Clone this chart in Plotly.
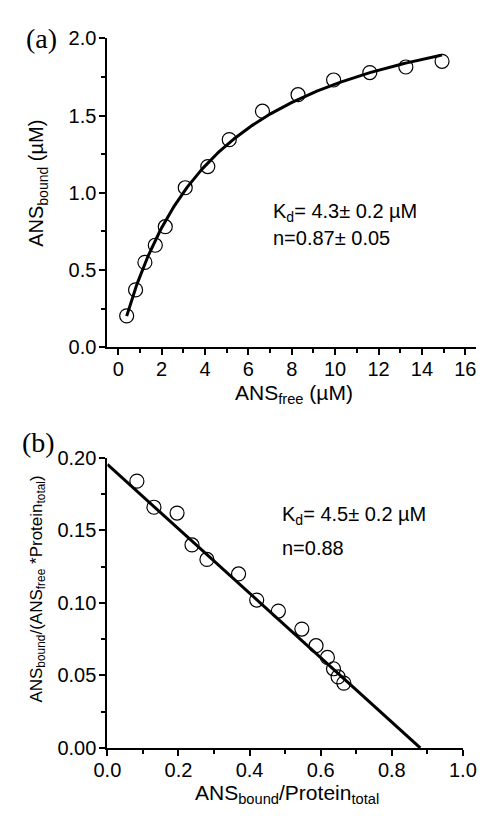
import numpy as np
import plotly.graph_objects as go

# Panel (a): saturation binding data
ans_free = [0.39, 0.80, 1.23, 1.71, 2.17, 3.09, 4.13, 5.12, 6.65, 8.29, 9.93, 11.6, 13.26, 14.93]
ans_bound = [0.204, 0.372, 0.550, 0.661, 0.781, 1.033, 1.170, 1.344, 1.528, 1.635, 1.730, 1.778, 1.814, 1.851]

# Fit parameters for panel (a)
kd_a = 4.3
n_a = 0.87
protein_total_a = 2.8  # µM

# Panel (b): Scatchard data
ratio_x = [0.083, 0.131, 0.196, 0.238, 0.280, 0.369, 0.420, 0.481, 0.547, 0.587, 0.619, 0.636, 0.649, 0.665]
ratio_y = [0.184, 0.166, 0.162, 0.140, 0.130, 0.120, 0.102, 0.0944, 0.082, 0.0705, 0.0624, 0.0546, 0.049, 0.0447]

# Fit parameters for panel (b)
kd_b = 4.5
n_b = 0.88

W, H = 492, 818
FONT = "Liberation Sans, Arial, sans-serif"
SERIF = "Liberation Serif, Times New Roman, serif"

# Single-site binding curve
xc = np.linspace(ans_free[0], ans_free[-1], 200)
yc = n_a * protein_total_a * xc / (kd_a + xc)

# Scatchard line: r/[L] = n/Kd - r/Kd
xl = np.array([0.0, n_b])
yl = n_b / kd_b - xl / kd_b

marker = dict(symbol="circle-open", size=14, color="black", line=dict(width=1.2))

fig = go.Figure()
fig.add_trace(go.Scatter(x=xc, y=yc, mode="lines", line=dict(color="black", width=3),
                         xaxis="x", yaxis="y", showlegend=False, hoverinfo="skip"))
fig.add_trace(go.Scatter(x=ans_free, y=ans_bound, mode="markers", marker=marker,
                         xaxis="x", yaxis="y", showlegend=False))
fig.add_trace(go.Scatter(x=xl, y=yl, mode="lines", line=dict(color="black", width=3),
                         xaxis="x2", yaxis="y2", showlegend=False, hoverinfo="skip", cliponaxis=False))
fig.add_trace(go.Scatter(x=ratio_x, y=ratio_y, mode="markers", marker=marker,
                         xaxis="x2", yaxis="y2", showlegend=False))


def px_x(p):
    return p / W


def px_y(p):
    return 1 - p / H


axis_common = dict(showline=True, linecolor="black", linewidth=2, ticks="outside", ticklen=6,
                   tickwidth=1.5, tickcolor="black", showgrid=False, zeroline=False, mirror=False,
                   tickfont=dict(family=FONT, size=20, color="black"))


def minor(step):
    return dict(ticks="outside", ticklen=4, tickwidth=1.5, tickcolor="black", dtick=step)


fig.update_layout(
    width=W, height=H, margin=dict(l=0, r=0, t=0, b=0),
    plot_bgcolor="white", paper_bgcolor="white",
    xaxis=dict(domain=[px_x(99), px_x(490)], range=[-0.5, 16.5], tick0=0, dtick=2,
               minor=minor(1), anchor="y", ticklabelstandoff=-3, **axis_common),
    yaxis=dict(domain=[px_y(345.7), px_y(28)], range=[0, 2.0], dtick=0.5, tickformat=".1f",
               minor=minor(0.25), anchor="x", ticklabelstandoff=-1, **axis_common),
    xaxis2=dict(domain=[px_x(99), px_x(476)], range=[0, 1.0], dtick=0.2, tickformat=".1f",
                minor=minor(0.1), anchor="y2", ticklabelstandoff=-3, **axis_common),
    yaxis2=dict(domain=[px_y(757.3), px_y(459.3)], range=[0, 0.20], dtick=0.05, tickformat=".2f",
                minor=minor(0.025), anchor="x2", ticklabelstandoff=-1, **axis_common),
)

ann = []


def label(text, x, y, size=20, family=FONT, xanchor="center", yanchor="middle", angle=0):
    ann.append(dict(text=text, x=px_x(x), y=px_y(y), xref="paper", yref="paper",
                    showarrow=False, xanchor=xanchor, yanchor=yanchor, textangle=angle,
                    font=dict(family=family, size=size, color="black")))


label("(a)", 11, 28, size=28, family=SERIF, xanchor="left")
label("(b)", 6, 443, size=28, family=SERIF, xanchor="left")

label("ANS<sub>free</sub> (µM)", 297, 394, size=21)
label("ANS<sub>bound</sub> (µM)", 25, 177, size=20, angle=-90)
label("ANS<sub>bound</sub>/Protein<sub>total</sub>", 290, 805, size=21)
label("ANS<sub>bound</sub>/(ANS<sub>free</sub> *Protein<sub>total</sub>)", 25, 594, size=17, angle=-90)

label("K<sub>d</sub>= 4.3± 0.2 µM", 273, 207, size=20, xanchor="left")
label("n=0.87± 0.05", 273, 233, size=20, xanchor="left")
label("K<sub>d</sub>= 4.5± 0.2 µM", 282, 518, size=20, xanchor="left")
label("n=0.88", 282, 552, size=20, xanchor="left")

fig.update_layout(annotations=ann)
fig.write_html("out.html")
